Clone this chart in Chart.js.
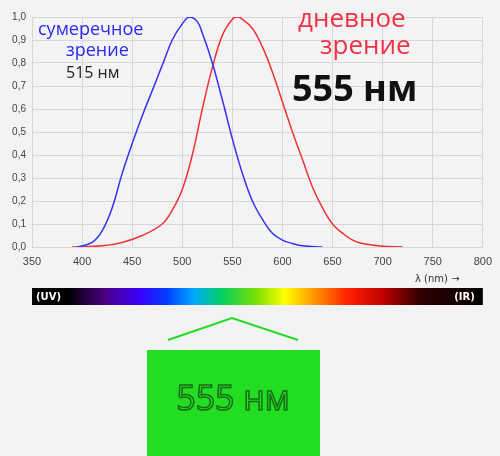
<!DOCTYPE html><html><head><meta charset="utf-8">
<script src="https://cdn.jsdelivr.net/npm/chart.js@4/dist/chart.umd.min.js"></script>
<style>html,body{margin:0;background:#f3f3f5}canvas{display:block}</style></head><body>
<canvas id="c" width="500" height="456"></canvas>
<script>
const blueX=[395,410,420,430,440,450,460,470,480,490,500,507,515,520,530,540,550,560,570,580,590,600,610,620,640];
const blueY=[0,0.02,0.07,0.17,0.32,0.45,0.57,0.68,0.79,0.9,0.97,1.0,0.98,0.93,0.8,0.64,0.47,0.32,0.2,0.12,0.06,0.03,0.015,0.005,0];
const redX=[390,420,440,460,480,490,500,510,520,530,540,550,555,560,570,580,590,600,610,620,630,640,650,660,670,680,700,720];
const redY=[0,0.005,0.02,0.05,0.1,0.16,0.25,0.4,0.6,0.78,0.92,0.99,1.0,0.99,0.95,0.87,0.76,0.63,0.5,0.38,0.26,0.17,0.1,0.06,0.03,0.015,0.003,0];
const xTicks=[350,400,450,500,550,600,650,700,750,800];
const extras={id:'extras',afterDraw(ch){
 const c=ch.ctx,x=ch.scales.x;c.save();
 const l=x.getPixelForValue(350),r=x.getPixelForValue(800);
 const g=c.createLinearGradient(l,0,r,0);
 [[0,'#000'],[0.08,'#000'],[0.16,'#4a0080'],[0.24,'#3a00ff'],[0.3,'#0040ff'],[0.36,'#00aaff'],[0.42,'#00d060'],[0.5,'#80e000'],[0.56,'#ffff00'],[0.63,'#ff9000'],[0.7,'#ff2000'],[0.78,'#c00000'],[0.86,'#300000'],[1,'#000']].forEach(s=>g.addColorStop(s[0],s[1]));
 c.fillStyle=g;c.fillRect(l,288,r-l,17);
 c.fillStyle='#fff';c.font='bold 10px DejaVu Sans';c.textBaseline='middle';
 c.textAlign='left';c.fillText('(UV)',l+4,297);c.textAlign='right';c.fillText('(IR)',r-8,297);
 c.fillStyle='#333';c.font='10px DejaVu Sans';c.textAlign='left';c.fillText('λ (nm) →',415,279);
 c.strokeStyle='#22dd22';c.lineWidth=2;c.beginPath();c.moveTo(168,340);c.lineTo(232,318);c.lineTo(298,340);c.stroke();
 c.fillStyle='#22dd22';c.fillRect(147,350,173,106);
 c.font='34px "Open Sans"';c.textAlign='center';c.strokeStyle='#1a6a1a';c.lineWidth=1.5;c.strokeText('555 нм',233,400);
 c.textAlign='left';c.textBaseline='alphabetic';
 c.fillStyle='#2a2aee';c.font='18px "Open Sans"';c.fillText('сумеречное',38,35);c.fillText('зрение',66,56);
 c.fillStyle='#222';c.font='16px "Open Sans"';c.fillText('515 нм',66,78);
 c.fillStyle='#ee3344';c.font='26px "Open Sans"';c.fillText('дневное',298,27);c.fillText('зрение',320,54);
 c.fillStyle='#111';c.font='bold 36px "Open Sans"';c.fillText('555 нм',292,101);
 c.restore();}};
new Chart(document.getElementById('c'),{type:'line',
 data:{datasets:[
  {data:blueX.map((v,i)=>({x:v,y:blueY[i]})),borderColor:'#3333ee',borderWidth:1.5,pointRadius:0,tension:0.4},
  {data:redX.map((v,i)=>({x:v,y:redY[i]})),borderColor:'#ee3333',borderWidth:1.5,pointRadius:0,tension:0.4}]},
 options:{animation:false,responsive:false,devicePixelRatio:1,
  layout:{padding:{left:0,right:17,top:17,bottom:179}},
  plugins:{legend:{display:false},tooltip:{enabled:false}},
  scales:{
   x:{type:'linear',min:350,max:800,afterBuildTicks:a=>{a.ticks=xTicks.map(v=>({value:v}));},
      afterFit:a=>{a.height=30},grid:{color:'#d8d8d8',drawTicks:false},border:{display:false},
      ticks:{color:'#444',font:{size:11},padding:8}},
   y:{min:0,max:1,afterFit:a=>{a.width=32},grid:{color:'#d8d8d8',drawTicks:false},border:{display:false},
      ticks:{stepSize:0.1,color:'#444',font:{size:10},padding:6,callback:v=>v.toFixed(1).replace('.',',')}}}},
 plugins:[extras]});
</script></body></html>
